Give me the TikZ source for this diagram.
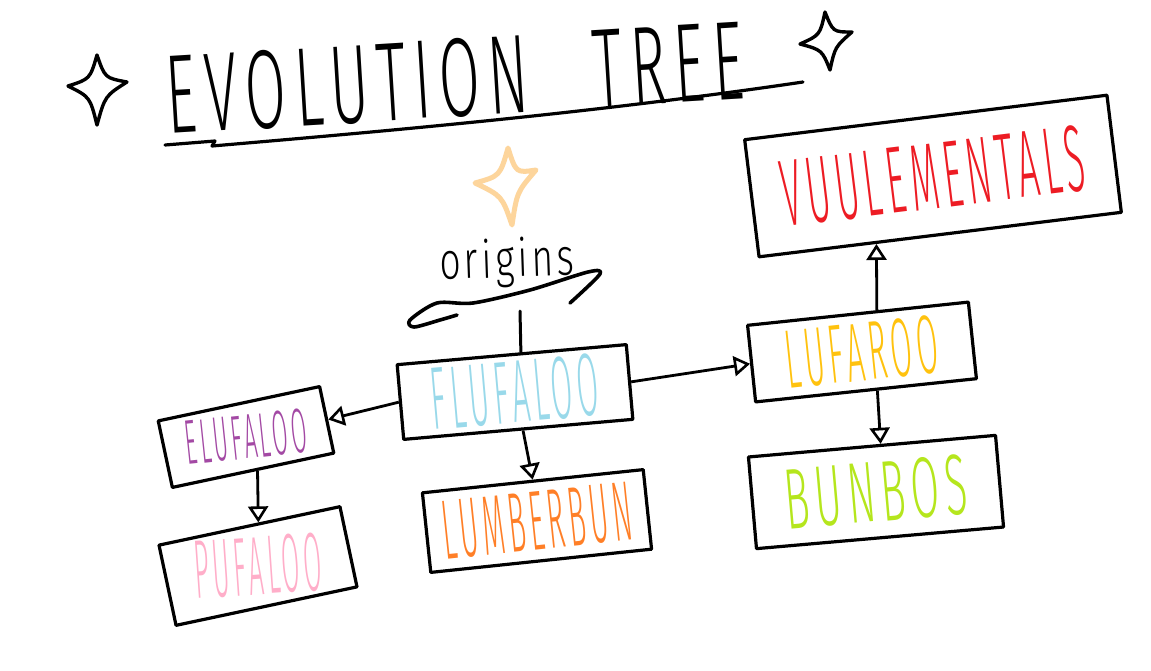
\documentclass[tikz,border=0pt]{standalone}
\usepackage{fontspec}
\setmainfont{Fira Sans}[UprightFont=* Light]
\usetikzlibrary{arrows.meta,calc}
\definecolor{cvuu}{HTML}{ED1C24}
\definecolor{cluf}{HTML}{FFC20E}
\definecolor{cbun}{HTML}{B5E61D}
\definecolor{cflu}{HTML}{99D9EA}
\definecolor{clum}{HTML}{FF7F27}
\definecolor{celu}{HTML}{A349A4}
\definecolor{cpuf}{HTML}{FFAEC9}
\definecolor{cpeach}{HTML}{FDD59C}
\newcommand{\lbl}[3]{\resizebox{#1pt}{#2pt}{\addfontfeature{LetterSpace=14}#3}}
\begin{document}
\begin{tikzpicture}[x=1pt,y=-1pt,
  box/.style={draw, line width=3.2pt, inner sep=0pt, line join=round},
  arr/.style={line width=2.8pt, -{Triangle[open,length=16pt,width=20pt,line width=2.6pt]}},
  pen/.style={line width=3.2pt, line cap=round, line join=round},
  sparkle/.style={line width=3.4pt, line cap=round, line join=round},
]
\useasboundingbox (0,0) rectangle (1151,670);
\fill[white] (0,0) rectangle (1151,670);

% title
\node[rotate=3.5, inner sep=0pt] (title) at (455,78) {\lbl{578}{78}{EVOLUTION\hspace{1.1em}TREE}};
\draw[pen] (165,145) -- (215,141) -- (212,146) .. controls (400,130) and (600,112) .. (803,82);

% sparkles
\draw[sparkle] (97,55) .. controls (105,78) .. (127,82) .. controls (105,96) .. (97,125)
  .. controls (90,97) .. (68,86) .. controls (90,79) .. cycle;
\draw[sparkle] (825,12) .. controls (833,32) .. (852,32) .. controls (835,47) .. (830,70)
  .. controls (822,50) .. (800,44) .. controls (820,35) .. cycle;
\draw[sparkle, cpeach, line width=5pt] (508,148) .. controls (516,173) .. (536,170) .. controls (517,192) .. (512,225)
  .. controls (502,196) .. (475,183) .. controls (500,176) .. cycle;

% origins
\node[inner sep=0pt, rotate=2] (orig) at (507,263) {\resizebox*{135pt}{50pt}{\addfontfeature{LetterSpace=10}origins}};
\draw[pen, line width=3.6pt] plot[smooth] coordinates {(570,303) (600,274) (588,272) (530,290) (473,303) (437,303) (410,320) (414,327) (440,320) (457,315)};
\coordinate (o) at (520,311);

% boxes
\node[box, rotate=7, minimum width=365pt, minimum height=118pt, text=cvuu] (vuu) at (933,176) {\lbl{305}{66}{VUULEMENTALS}};
\node[box, rotate=6, minimum width=222pt, minimum height=77pt, text=cluf] (luf) at (862,352) {\lbl{153}{58}{LUFAROO}};
\node[box, rotate=5, minimum width=248pt, minimum height=92pt, text=cbun] (bun) at (876,492) {\lbl{183}{60}{BUNBOS}};
\node[box, rotate=5, minimum width=230pt, minimum height=75pt, text=cflu] (flu) at (515,392) {\lbl{168}{62}{FLUFALOO}};
\node[box, rotate=6, minimum width=222pt, minimum height=80pt, text=clum] (lum) at (537,521) {\lbl{190}{58}{LUMBERBUN}};
\node[box, rotate=12, minimum width=165pt, minimum height=68pt, text=celu] (elu) at (246,437) {\rotatebox{-6}{\lbl{122}{44}{ELUFALOO}}};
\node[box, rotate=12, minimum width=185pt, minimum height=82pt, text=cpuf] (puf) at (258,566) {\rotatebox{-8}{\lbl{128}{58}{PUFALOO}}};

% connectors
\draw[pen, line width=3pt] (o) -- ($(flu.north)!0.08!(flu.north east)$);
\draw[arr] (flu.west) -- (elu.east);
\draw[arr] ($(elu.south)!0.05!(elu.south east)$) -- ($(puf.north)!0.1!(puf.north east)$);
\draw[arr] ($(flu.south)!0.04!(flu.south east)$) -- ($(lum.north)!0.0!(lum.north east)$);
\draw[arr] (flu.east) -- (luf.west);
\draw[arr] ($(luf.north)!0.17!(luf.north east)$) -- ($(vuu.south)!0.35!(vuu.south west)$);
\draw[arr] ($(luf.south)!0.1!(luf.south east)$) -- ($(bun.north)!0.07!(bun.north east)$);
\end{tikzpicture}
\end{document}
